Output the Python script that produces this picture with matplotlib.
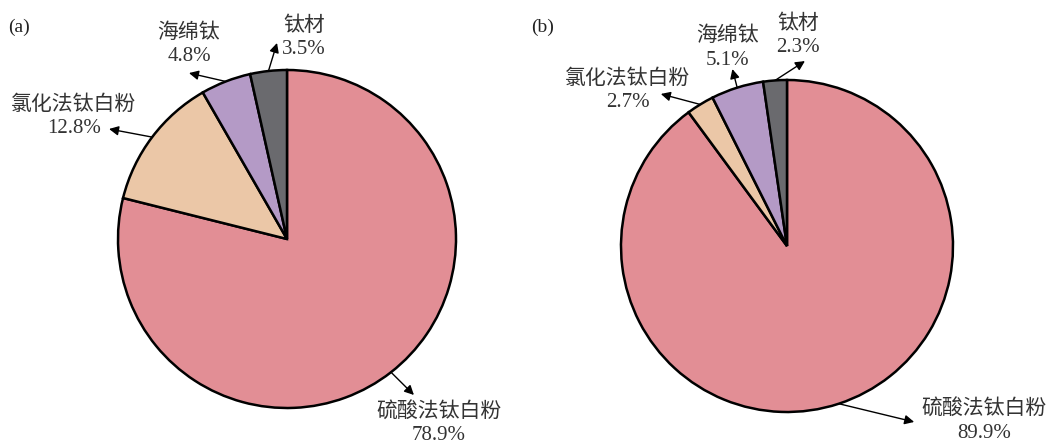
import matplotlib
matplotlib.use("Agg")
import matplotlib.pyplot as plt
import numpy as np

# Data
labels = ["硫酸法钛白粉", "氯化法钛白粉", "海绵钛", "钛材"]
share_a = [78.9, 12.8, 4.8, 3.5]
share_b = [89.9, 2.7, 5.1, 2.3]
colors = ["#E28E95", "#EBC7A7", "#B49AC6", "#6A6A6E"]

# label layout (data units, pie radius = 1): arrow head and text centre
heads_a = [(0.751, -0.923), (-1.053, 0.651), (-0.580, 0.982), (-0.059, 1.160)]
texts_a = [(0.899, -1.094), (-1.260, 0.722), (-0.580, 1.148), (0.100, 1.189)]
heads_b = [(0.766, -1.060), (-0.760, 0.916), (-0.329, 1.066), (0.108, 1.114)]
texts_b = [(1.186, -1.054), (-0.958, 0.934), (-0.359, 1.192), (0.066, 1.269)]

W, H = 1053, 447
fam = ["Liberation Serif", "Noto Sans CJK SC", "DejaVu Sans"]

fig = plt.figure(figsize=(W / 100, H / 100), dpi=100)

def draw_pie(cx, cy, R, vals, heads, texts, tag, tagx):
    ax = fig.add_axes([(cx - R) / W, (H - cy - R) / H, 2 * R / W, 2 * R / H])
    wedges, _ = ax.pie(vals, colors=colors, startangle=90, counterclock=False,
                       radius=1, wedgeprops=dict(edgecolor="black", linewidth=1.8))
    ax.set_xlim(-1, 1)
    ax.set_ylim(-1, 1)
    ax.axis("off")
    for w, lab, v, hd, tx in zip(wedges, labels, vals, heads, texts):
        mid = np.deg2rad((w.theta1 + w.theta2) / 2)
        tail = (np.cos(mid), np.sin(mid))
        ax.annotate("", xy=hd, xytext=tail, annotation_clip=False,
                    arrowprops=dict(arrowstyle="-|>", color="black", lw=1.0,
                                    mutation_scale=14, shrinkA=0, shrinkB=0))
        ax.text(tx[0], tx[1], f"{lab}\n{v}%", ha="center", va="center",
                fontsize=15, color="#333333", family=fam, linespacing=1.3,
                clip_on=False)
    fig.text(tagx / W, 1 - 27 / H, tag, ha="left", va="center",
             fontsize=14, color="#222222", family=fam)
    return ax

draw_pie(287, 239, 169, share_a, heads_a, texts_a, "(a)", 8)
draw_pie(787, 246, 166, share_b, heads_b, texts_b, "(b)", 531)

fig.savefig("out.png", dpi=100)
plt.close(fig)
